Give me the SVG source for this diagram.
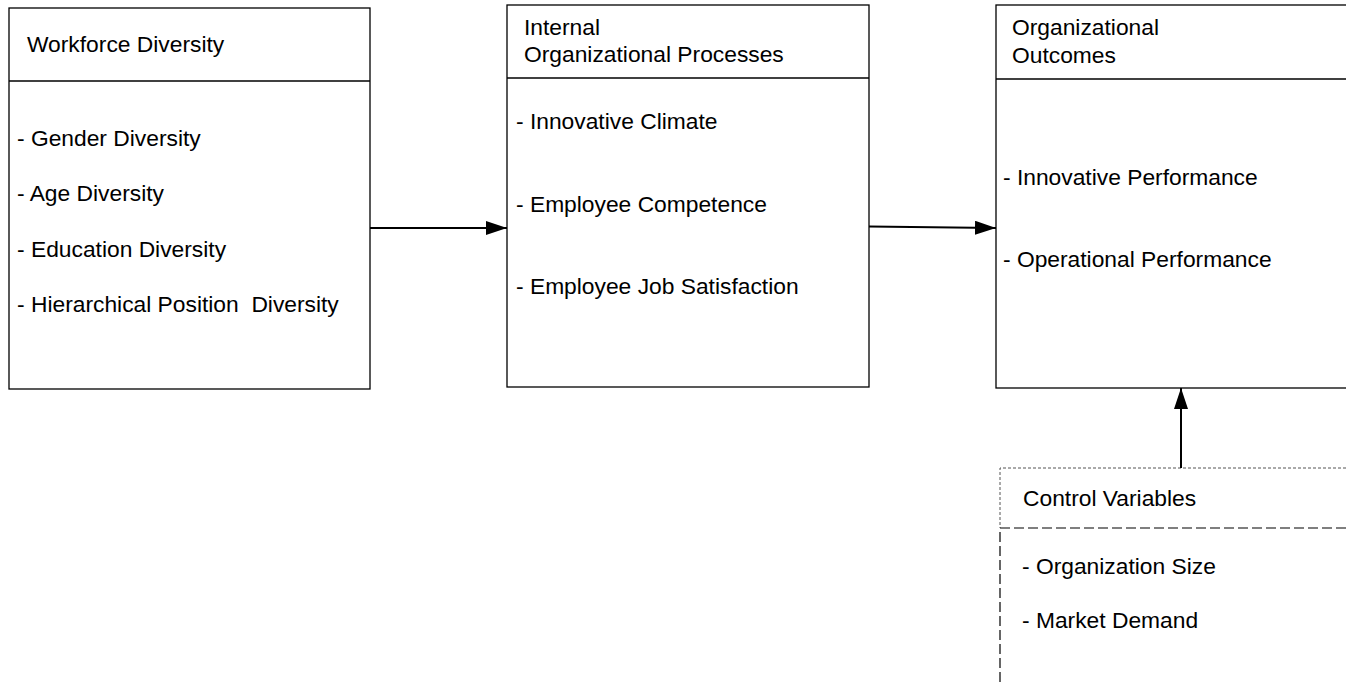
<svg xmlns="http://www.w3.org/2000/svg" width="1346" height="686" viewBox="0 0 1346 686">
<defs>
<marker id="ah" markerWidth="21" markerHeight="14" refX="21" refY="7" orient="auto" markerUnits="userSpaceOnUse">
<path d="M0,0 L21,7 L0,14 Z" fill="#000"/>
</marker>
<style>
text{font-family:"Liberation Sans",Arial,sans-serif;font-size:22.8px;fill:#000}
.box{fill:#fff;stroke:#000;stroke-width:1.3}
.div{stroke:#000;stroke-width:1.3}
.conn{stroke:#000;stroke-width:2;fill:none}
.fine{stroke:#555;stroke-width:1;stroke-dasharray:3 2;fill:none}
.dash{stroke:#000;stroke-width:1.2;stroke-dasharray:10 4;fill:none}
</style>
</defs>
<rect width="1346" height="686" fill="#fff"/>
<g id="workforce-diversity">
<rect class="box" x="9" y="8" width="361" height="381"/>
<line class="div" x1="9" y1="81" x2="370" y2="81"/>
<text x="27" y="52">Workforce Diversity</text>
<text x="17" y="146">- Gender Diversity</text>
<text x="17" y="201">- Age Diversity</text>
<text x="17" y="256.5">- Education Diversity</text>
<text x="17" y="312" xml:space="preserve">- Hierarchical Position  Diversity</text>
</g>
<g id="internal-processes">
<rect class="box" x="507" y="5" width="362" height="382"/>
<line class="div" x1="507" y1="78" x2="869" y2="78"/>
<text x="524" y="35">Internal</text>
<text x="524" y="62">Organizational Processes</text>
<text x="516" y="129">- Innovative Climate</text>
<text x="516" y="212">- Employee Competence</text>
<text x="516" y="294">- Employee Job Satisfaction</text>
</g>
<g id="organizational-outcomes">
<rect class="box" x="996" y="5" width="370" height="383"/>
<line class="div" x1="996" y1="79" x2="1366" y2="79"/>
<text x="1012" y="35">Organizational</text>
<text x="1012" y="63">Outcomes</text>
<text x="1003" y="185">- Innovative Performance</text>
<text x="1003" y="267">- Operational Performance</text>
</g>
<g id="control-variables">
<path class="fine" d="M1346,468 H1000 V528"/>
<line class="dash" x1="1000" y1="528" x2="1346" y2="528"/>
<line class="dash" x1="1000" y1="532" x2="1000" y2="686"/>
<text x="1023" y="506">Control Variables</text>
<text x="1022" y="574">- Organization Size</text>
<text x="1022" y="628">- Market Demand</text>
</g>
<g id="connectors">
<line class="conn" x1="370" y1="228" x2="507" y2="228" marker-end="url(#ah)"/>
<line class="conn" x1="869" y1="226.5" x2="996" y2="228" marker-end="url(#ah)"/>
<line class="conn" x1="1181" y1="468" x2="1181" y2="388" marker-end="url(#ah)"/>
</g>
</svg>
